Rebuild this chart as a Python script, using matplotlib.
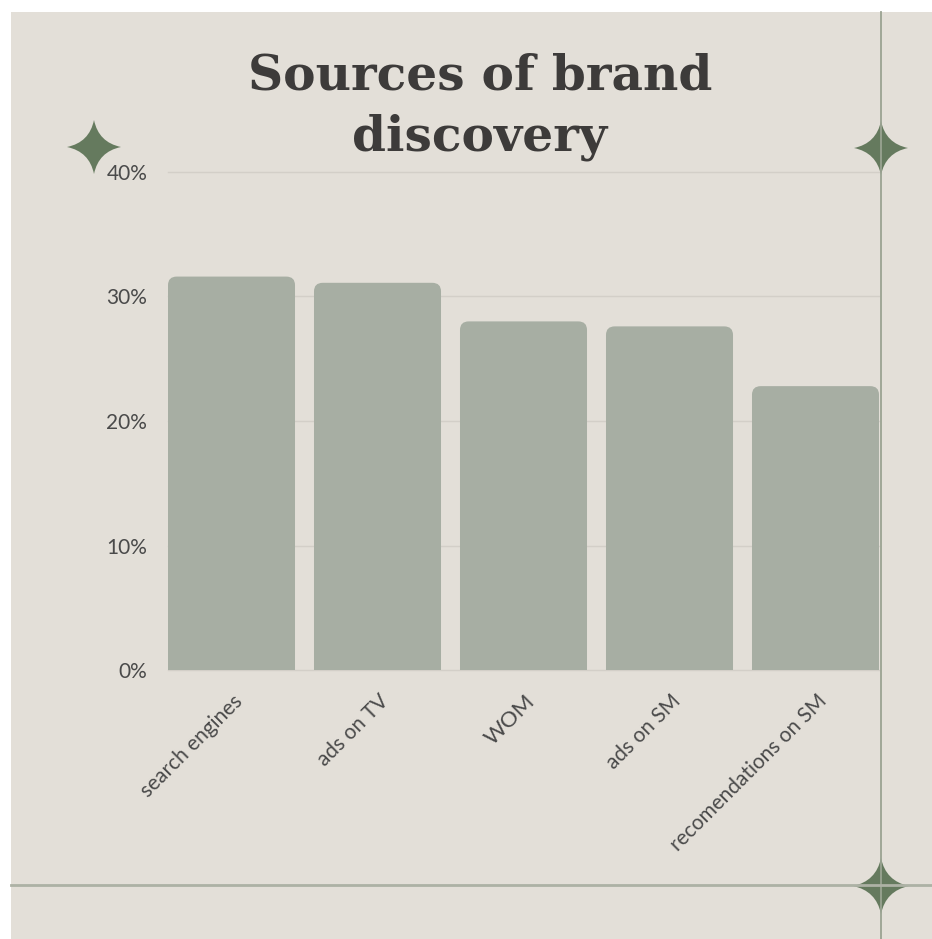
import numpy as np
import matplotlib
matplotlib.use("Agg")
import matplotlib.pyplot as plt
from matplotlib.patches import FancyBboxPatch, PathPatch, Rectangle
from matplotlib.path import Path
from matplotlib.transforms import ScaledTranslation

# data
categories = ["search engines", "ads on TV", "WOM", "ads on SM", "recomendations on SM"]
shares = [31.6, 31.1, 28.0, 27.6, 22.8]
yticks = [0, 10, 20, 30, 40]
ytick_labels = ["0%", "10%", "20%", "30%", "40%"]
title_lines = ["Sources of brand", "discovery"]

BG = "#e3dfd8"
BAR = "#a7aea3"
GRID = "#d3cfc8"
TEXT = "#4a4a4a"
GREEN = "#657a5e"
LINE = "#9aa392"

W, H = 932, 939
fig = plt.figure(figsize=(W / 100, H / 100), dpi=100)
fig.patch.set_facecolor("white")

# beige card behind everything
bg = fig.add_axes([0, 0, 1, 1], zorder=-1)
bg.set_xlim(0, W)
bg.set_ylim(H, 0)
bg.axis("off")
bg.add_patch(Rectangle((11, 12), W - 11, H - 12, facecolor=BG, edgecolor="none"))

# main bar axes
ax = fig.add_axes([168 / W, 1 - 670 / H, 711 / W, 498 / H], zorder=1)
ax.set_facecolor("none")
for s in ax.spines.values():
    s.set_visible(False)

width = 0.87
x = np.arange(len(categories))
ax.set_xlim(-width / 2, len(categories) - 1 + width / 2)
ax.set_ylim(0, 40)

for yv in yticks:
    ax.axhline(yv, color=GRID, lw=1, zorder=1, clip_on=False)

# rounded top corners: bars start below zero and are clipped by the axes
for xi, v in zip(x, shares):
    p = FancyBboxPatch((xi - width / 2, -3), width, v + 3,
                       boxstyle="round,pad=0,rounding_size=0.06",
                       mutation_aspect=11.5, facecolor=BAR,
                       edgecolor="none", zorder=2)
    ax.add_patch(p)

ax.set_yticks(yticks)
ax.set_yticklabels(ytick_labels, fontsize=15, color=TEXT, family="Lato")
ax.tick_params(axis="y", length=0, pad=15)
ax.set_xticks([])

off = ScaledTranslation(8 / 100, -28 / 100, fig.dpi_scale_trans)
for xi, lab in zip(x, categories):
    ax.text(xi, 0, lab, transform=ax.get_xaxis_transform() + off,
            rotation=45, rotation_mode="anchor", ha="right", va="center",
            fontsize=15 if lab != "WOM" else 16, color=TEXT, family="Lato")

# front overlay in pixel coords for title, frame lines and stars
ov = fig.add_axes([0, 0, 1, 1], zorder=5)
ov.set_xlim(0, W)
ov.set_ylim(H, 0)
ov.axis("off")
ov.patch.set_alpha(0)

ov.plot([881, 881], [12, H], color=LINE, lw=1.3)
ov.plot([11, W], [885, 885], color="#adb2a5", lw=2)


def star(cx, cy, r):
    k = 0.17 * r
    pts = [(cx, cy - r), (cx + r, cy), (cx, cy + r), (cx - r, cy)]
    ctrl = [(cx + k, cy - k), (cx + k, cy + k), (cx - k, cy + k), (cx - k, cy - k)]
    verts = [pts[0]]
    codes = [Path.MOVETO]
    for i in range(4):
        verts += [ctrl[i], pts[(i + 1) % 4]]
        codes += [Path.CURVE3, Path.CURVE3]
    verts.append(pts[0])
    codes.append(Path.CLOSEPOLY)
    ov.add_patch(PathPatch(Path(verts, codes), facecolor=GREEN,
                           edgecolor="none"))


star(94, 147, 27)
star(881, 148, 27)
star(881, 886, 28)

for yy, line in zip([76, 137], title_lines):
    ov.text(480, yy, line, ha="center", va="center", fontsize=35,
            fontweight="heavy", family="DejaVu Serif", color="#3d3b3a")

fig.savefig("out.png", dpi=100, facecolor="white")
